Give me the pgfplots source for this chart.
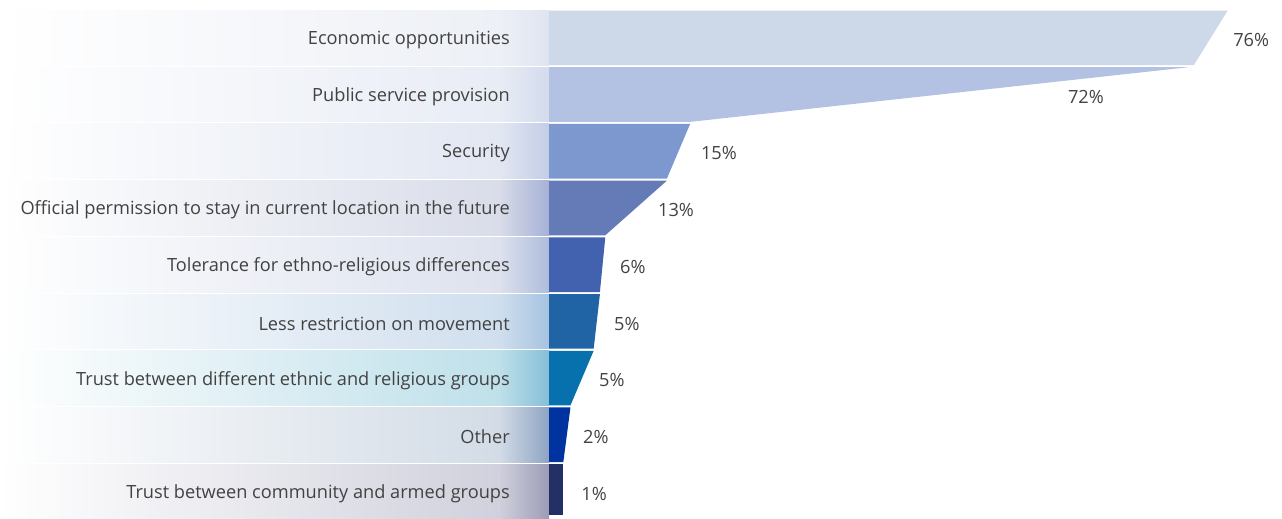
\documentclass[border=0pt]{standalone}
\usepackage{pgfplots}
\pgfplotsset{compat=1.18}
\usepackage{pgfplotstable}
\usepackage{fontspec}
\setmainfont{Open Sans}
\definecolor{txt}{HTML}{424242}
% bar colours
\definecolor{b1}{HTML}{CDD8E9}
\definecolor{b2}{HTML}{B3C2E2}
\definecolor{b3}{HTML}{7D98CE}
\definecolor{b4}{HTML}{647BB8}
\definecolor{b5}{HTML}{4262AF}
\definecolor{b6}{HTML}{2164A5}
\definecolor{b7}{HTML}{0771AE}
\definecolor{b8}{HTML}{0033A0}
\definecolor{b9}{HTML}{233066}
% panel colours (mid, end)
\definecolor{m1}{HTML}{EDF0F6}\definecolor{e1}{HTML}{DFE5F0}
\definecolor{m2}{HTML}{E8ECF5}\definecolor{e2}{HTML}{D3DBEC}
\definecolor{m3}{HTML}{E2E7F2}\definecolor{e3}{HTML}{C3CDE6}
\definecolor{m4}{HTML}{D9DDE9}\definecolor{e4}{HTML}{A6B1D6}
\definecolor{m5}{HTML}{DDE2EE}\definecolor{e5}{HTML}{AEBCDC}
\definecolor{m6}{HTML}{D0DFEE}\definecolor{e6}{HTML}{A6C3E1}
\definecolor{m7}{HTML}{BFE0EA}\definecolor{e7}{HTML}{86BFD7}
\definecolor{m8}{HTML}{D3DCE6}\definecolor{e8}{HTML}{8EA4C3}
\definecolor{m9}{HTML}{D1D1DD}\definecolor{e9}{HTML}{9C9CB6}

\pgfplotstableread[col sep=comma]{
x,y,label
-4.37,0.5,Economic opportunities
-4.37,1.5,Public service provision
-4.37,2.5,Security
-4.37,3.5,Official permission to stay in current location in the future
-4.37,4.5,Tolerance for ethno-religious differences
-4.37,5.5,Less restriction on movement
-4.37,6.5,Trust between different ethnic and religious groups
-4.37,7.5,Other
-4.37,8.5,Trust between community and armed groups
}\cats

\pgfplotstableread[col sep=comma]{
x,y,label
76.6,0.5,76\%
58.1,1.5,72\%
17.0,2.5,15\%
12.2,3.5,13\%
7.95,4.5,6\%
7.28,5.5,5\%
5.6,6.5,5\%
3.8,7.5,2\%
3.6,8.5,1\%
}\vals

\newcommand{\panel}[3]{% row, mid colour, end colour
  \addplot[draw=none, left color=white, right color=#2]
    coordinates {(-61.48,#1+0.018) (-5.6,#1+0.018) (-5.6,#1+0.982) (-61.48,#1+0.982)} -- cycle;
  \addplot[draw=none, left color=#2, right color=#3]
    coordinates {(-5.65,#1+0.018) (0,#1+0.018) (0,#1+0.982) (-5.65,#1+0.982)} -- cycle;
}

\begin{document}
\begin{tikzpicture}
\begin{axis}[
  scale only axis,
  width=1282pt, height=515pt,
  xmin=-61.48, xmax=82.08,
  ymin=-0.1675, ymax=8.915,
  y dir=reverse,
  axis lines=none,
  clip=false,
]
% invisible frame so that the picture keeps the full extent
\addplot[draw=none, mark=none] coordinates {(-61.48,-0.1675) (82.08,8.915)};
\panel{0}{m1}{e1}
\panel{1}{m2}{e2}
\panel{2}{m3}{e3}
\panel{3}{m4}{e4}
\panel{4}{m5}{e5}
\panel{5}{m6}{e6}
\panel{6}{m7}{e7}
\panel{7}{m8}{e8}
\panel{8}{m9}{e9}

\addplot[fill=b1, draw=none] coordinates {(0,0.018) (76.0,0.018) (72.2,0.982) (0,0.982)} -- cycle;
\addplot[fill=b2, draw=none] coordinates {(0,1.018) (71.6,1.018) (15.8,1.982) (0,1.982)} -- cycle;
\addplot[fill=b3, draw=none] coordinates {(0,2.018) (15.8,2.018) (13.2,2.982) (0,2.982)} -- cycle;
\addplot[fill=b4, draw=none] coordinates {(0,3.018) (13.2,3.018) (6.3,3.982) (0,3.982)} -- cycle;
\addplot[fill=b5, draw=none] coordinates {(0,4.018) (6.3,4.018) (5.7,4.982) (0,4.982)} -- cycle;
\addplot[fill=b6, draw=none] coordinates {(0,5.018) (5.7,5.018) (5.0,5.982) (0,5.982)} -- cycle;
\addplot[fill=b7, draw=none] coordinates {(0,6.018) (5.0,6.018) (2.4,6.982) (0,6.982)} -- cycle;
\addplot[fill=b8, draw=none] coordinates {(0,7.018) (2.4,7.018) (1.6,7.982) (0,7.982)} -- cycle;
\addplot[fill=b9, draw=none] coordinates {(0,8.018) (1.6,8.018) (1.6,8.915) (0,8.915)} -- cycle;

\addplot[only marks, mark=none, nodes near coords, point meta=explicit symbolic,
  every node near coord/.append style={anchor=east, inner sep=0pt, yshift=-2.2pt, font=\fontsize{18.2}{20}\selectfont, text=txt}]
  table[x=x, y=y, meta=label] {\cats};
\addplot[only marks, mark=none, nodes near coords, point meta=explicit symbolic,
  every node near coord/.append style={anchor=west, inner sep=0pt, yshift=-2.2pt, font=\fontsize{18.2}{20}\selectfont, text=txt}]
  table[x=x, y=y, meta=label] {\vals};
\end{axis}
\end{tikzpicture}
\end{document}
